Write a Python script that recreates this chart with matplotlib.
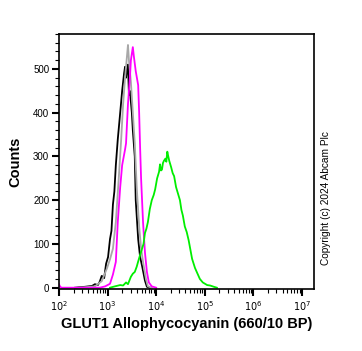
import matplotlib
matplotlib.use("Agg")
import matplotlib.pyplot as plt
from matplotlib.ticker import LogLocator, MultipleLocator, FixedLocator, NullFormatter
import numpy as np

# Channel positions given as log10 of fluorescence intensity
black_x = [2.33, 2.53, 2.68, 2.74, 2.80, 2.84, 2.88, 2.93, 2.97, 3.01, 3.05, 3.08, 3.11, 3.14, 3.17, 3.21, 3.26,
           3.30, 3.34, 3.36, 3.38, 3.40, 3.42, 3.44, 3.46, 3.50, 3.52, 3.56, 3.58, 3.63, 3.67, 3.71, 3.77, 3.81, 3.87]
black_y = [0, 2, 4, 8, 6, 14, 27, 22, 55, 70, 111, 130, 190, 220, 280, 339, 400,
           450, 490, 505, 480, 500, 510, 441, 450, 400, 360, 300, 200, 111, 70, 50, 16, 2, 0]

gray_x = [2.43, 2.74, 2.88, 2.99, 3.05, 3.11, 3.17, 3.23, 3.28, 3.32, 3.36, 3.40, 3.42, 3.44, 3.48, 3.52,
          3.56, 3.60, 3.65, 3.69, 3.73, 3.79, 3.83, 3.91]
gray_y = [0, 3, 15, 45, 65, 89, 150, 250, 339, 420, 480, 530, 555, 520, 470, 400,
          330, 230, 140, 90, 59, 20, 3, 0]

magenta_x = [2.00, 2.02, 2.05, 2.84, 2.95, 3.05, 3.11, 3.17, 3.21, 3.26, 3.30, 3.36, 3.38, 3.42, 3.46, 3.48,
             3.52, 3.54, 3.58, 3.63, 3.65, 3.67, 3.69, 3.73, 3.77, 3.81, 3.85, 3.91, 4.00]
magenta_y = [8, 3, 0, 0, 3, 9, 30, 59, 150, 230, 280, 316, 330, 420, 480, 520,
             550, 530, 495, 463, 400, 320, 250, 150, 80, 36, 12, 3, 0]

green_x = [3.05, 3.15, 3.26, 3.32, 3.38, 3.42, 3.48, 3.52, 3.56, 3.60, 3.63, 3.67, 3.71, 3.74, 3.77, 3.80,
           3.83, 3.87, 3.91, 3.95, 3.98, 4.02, 4.06, 4.08, 4.10, 4.12, 4.14, 4.16, 4.19, 4.21, 4.23, 4.25,
           4.27, 4.31, 4.34, 4.37, 4.41, 4.45, 4.49, 4.52, 4.55, 4.59, 4.63, 4.67, 4.70, 4.74, 4.80, 4.86,
           4.90, 4.96, 5.05, 5.11, 5.19, 5.25]
green_y = [0, 3, 6, 5, 12, 8, 25, 32, 36, 48, 60, 75, 89, 100, 125, 135,
           150, 180, 200, 212, 225, 250, 265, 282, 268, 270, 285, 290, 295, 288, 311, 300,
           290, 275, 262, 255, 230, 215, 200, 178, 165, 140, 127, 108, 90, 66, 45, 30,
           20, 12, 6, 5, 2, 0]

y_ticks = [0, 100, 200, 300, 400, 500]
x_decades = [2, 3, 4, 5, 6, 7]

plt.rcParams['font.family'] = ['Liberation Sans', 'DejaVu Sans']

fig = plt.figure(figsize=(3.62, 3.51), dpi=100)
ax = fig.add_axes([59/362, 1 - 289/351, (314 - 59)/362, (289 - 34)/351])

series = [(black_x, black_y, 'black'), (gray_x, gray_y, '#a8a8a8'),
          (magenta_x, magenta_y, '#ff00ff'), (green_x, green_y, '#00ee00')]
for xs, ys, c in series:
    ax.plot(10 ** np.array(xs), ys, color=c, lw=1.3)

ax.set_xscale('log')
ax.set_xlim(100, 10 ** 7.25)
ax.set_ylim(-3, 580)

ax.set_yticks(y_ticks)
ax.set_yticklabels([str(v) for v in y_ticks], fontsize=7)
ax.yaxis.set_minor_locator(MultipleLocator(20))

ax.xaxis.set_major_locator(FixedLocator([10 ** d for d in x_decades]))
ax.set_xticklabels([r'$10^{%d}$' % d for d in x_decades], fontsize=7)
ax.xaxis.set_minor_locator(LogLocator(base=10, subs=np.arange(2, 10)))
ax.xaxis.set_minor_formatter(NullFormatter())

ax.tick_params(which='major', direction='out', length=5, width=1.5, pad=2)
ax.tick_params(which='minor', direction='out', length=3, width=0.8)
for s in ax.spines.values():
    s.set_linewidth(1.2)

ax.set_xlabel('GLUT1 Allophycocyanin (660/10 BP)', fontsize=10.5, fontweight='bold', labelpad=3)
ax.set_ylabel('Counts', fontsize=10.5, fontweight='bold', labelpad=8)

fig.text(326/362, 1 - 198/351, 'Copyright (c) 2024 Abcam Plc', rotation=90,
         fontsize=7.3, ha='center', va='center')

fig.savefig('out.png', dpi=100)
